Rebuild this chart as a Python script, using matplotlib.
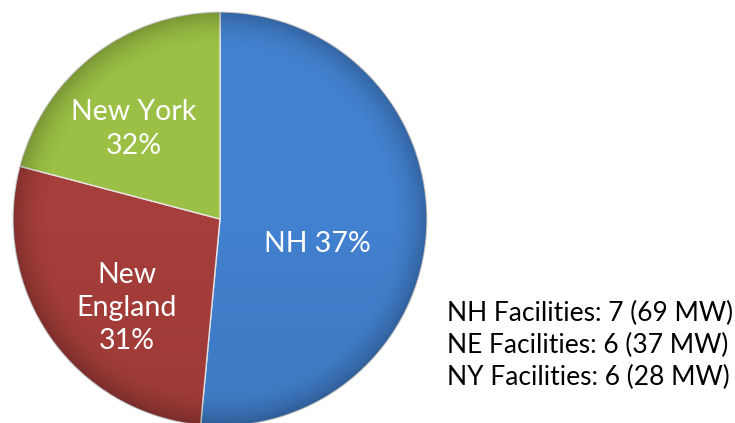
import matplotlib
matplotlib.use("Agg")
import matplotlib.pyplot as plt
import numpy as np
from matplotlib.patches import Circle

regions = ["NH", "New England", "New York"]
mw = [69, 37, 28]
facilities = [7, 6, 6]
abbr = ["NH", "NE", "NY"]
pct_labels = ["NH 37%", "New\nEngland\n31%", "New York\n32%"]
colors = ["#4281CF", "#A63E3B", "#9CC045"]

W, H = 735, 423
fig = plt.figure(figsize=(W / 100, H / 100), dpi=100)
fig.patch.set_facecolor("white")

cx, cy, r = 220, 219, 207
ax = fig.add_axes([(cx - r) / W, (H - cy - r) / H, 2 * r / W, 2 * r / H])
ax.axis("off")

wedges, _ = ax.pie(mw, colors=colors, startangle=90, counterclock=False,
                   radius=1.0, wedgeprops=dict(edgecolor="#e6e6e6", linewidth=1.0))

# subtle shading towards the rim
n = 400
yy, xx = np.mgrid[-1:1:n * 1j, -1:1:n * 1j]
rr = np.sqrt(xx ** 2 + yy ** 2)
shade = np.zeros((n, n, 4))
alpha = np.clip((rr - 0.82) / 0.18, 0, 1) ** 2 * 0.22 + np.clip(-yy, 0, 1) * 0.06
shade[..., 3] = alpha
im = ax.imshow(shade, extent=(-1, 1, -1, 1), origin="lower", zorder=3)
im.set_clip_path(Circle((0, 0), 1.0, transform=ax.transData))

ax.set_xlim(-1, 1)
ax.set_ylim(-1, 1)
ax.set_aspect("equal")

font = "Lato"
label_pos = [(317, 244), (127, 308), (134, 129)]
for (px, py), lab in zip(label_pos, pct_labels):
    fig.text(px / W, 1 - py / H, lab, ha="center", va="center", color="white",
             fontsize=20.5, family=font, linespacing=1.35, zorder=5)

for i, (a, f, m) in enumerate(zip(abbr, facilities, mw)):
    y = [313, 345, 377][i]
    fig.text(447 / W, 1 - y / H, f"{a} Facilities: {f} ({m} MW)", ha="left",
             va="center", color="black", fontsize=19, family=font)

fig.savefig("out.png", dpi=100, facecolor="white")
